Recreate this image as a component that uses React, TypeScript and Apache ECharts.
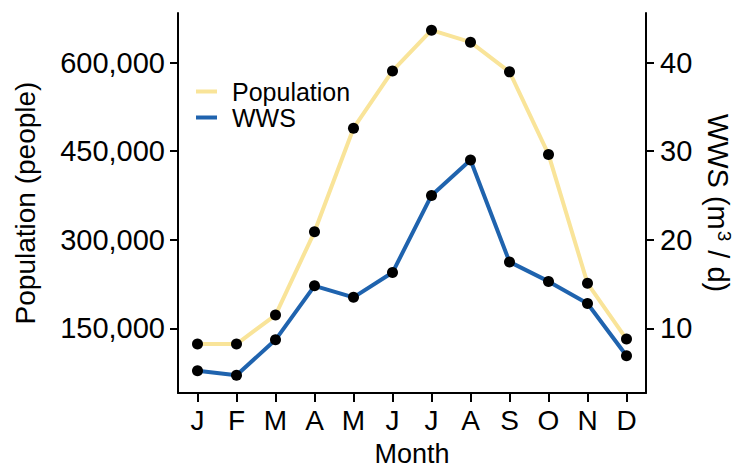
import React, { useEffect, useRef } from "react";
import * as echarts from "echarts";

const months = ["J", "F", "M", "A", "M", "J", "J", "A", "S", "O", "N", "D"];
const population = [123400, 123400, 172500, 313500, 489000, 586000, 655000, 634700, 584400, 444600, 226200, 131900];
const wws = [5.2, 4.7, 8.7, 14.8, 13.5, 16.3, 25.0, 29.0, 17.5, 15.3, 12.8, 6.9];
const popTicks = [150000, 300000, 450000, 600000];
const wwsTicks = [10, 20, 30, 40];

const FONT = "Liberation Sans, Arial, sans-serif";
const YELLOW = "#F9E499";
const BLUE = "#1F63AE";

export default function App() {
  const ref = useRef<HTMLDivElement>(null);
  useEffect(() => {
    if (!ref.current) return;
    const chart = echarts.init(ref.current, null, { renderer: "svg" });
    chart.setOption({
      animation: false,
      textStyle: { fontFamily: FONT, color: "#000" },
      grid: { left: 178, right: 88, top: 13, bottom: 77, containLabel: false, outerBoundsMode: "none" },
      legend: {
        orient: "vertical",
        left: 191,
        top: 74,
        itemWidth: 21,
        itemHeight: 4,
        itemGap: 1,
        icon: "rect",
        textStyle: { fontFamily: FONT, fontSize: 25, color: "#000", padding: [0, 0, 0, 10] },
        data: [
          { name: "Population", itemStyle: { color: YELLOW } },
          { name: "WWS", itemStyle: { color: BLUE } },
        ],
      },
      xAxis: {
        type: "category",
        data: months,
        boundaryGap: true,
        name: "Month",
        nameLocation: "middle",
        nameGap: 47,
        nameTextStyle: { fontFamily: FONT, fontSize: 27, lineHeight: 27, color: "#000" },
        axisLine: { show: true, lineStyle: { color: "#000", width: 2 } },
        axisTick: { show: true, alignWithLabel: true, length: 9, lineStyle: { color: "#000", width: 2 } },
        axisLabel: { fontFamily: FONT, fontSize: 28, color: "#000", margin: 13 },
        splitLine: { show: false },
      },
      yAxis: [
        {
          type: "value",
          position: "left",
          min: 40500,
          max: 684100,
          name: "Population (people)",
          nameLocation: "middle",
          nameGap: 139,
          nameTextStyle: { fontFamily: FONT, fontSize: 28, color: "#000" },
          axisLine: { show: true, lineStyle: { color: "#000", width: 2 } },
          axisTick: { show: true, length: 8, customValues: popTicks, lineStyle: { color: "#000", width: 2 } },
          axisLabel: {
            fontFamily: FONT,
            fontSize: 29,
            color: "#000",
            margin: 13,
            customValues: popTicks,
            formatter: (v: number) => v.toLocaleString("en-US"),
          },
          splitLine: { show: false },
        },
        {
          type: "value",
          position: "right",
          min: 2.7,
          max: 45.6,
          name: "WWS (m{sup|3} / d)",
          nameLocation: "middle",
          nameRotate: -90,
          nameGap: 52,
          nameTextStyle: {
            fontFamily: FONT,
            fontSize: 29,
            color: "#000",
            rich: {
              sup: { fontFamily: FONT, fontSize: 19, color: "#000", padding: [0, 1, 14, 1] },
            },
          },
          axisLine: { show: true, lineStyle: { color: "#000", width: 2 } },
          axisTick: { show: true, length: 8, customValues: wwsTicks, lineStyle: { color: "#000", width: 2 } },
          axisLabel: { fontFamily: FONT, fontSize: 29, color: "#000", margin: 14, customValues: wwsTicks },
          splitLine: { show: false },
        },
      ],
      series: [
        {
          name: "Population",
          type: "line",
          yAxisIndex: 0,
          data: population,
          color: YELLOW,
          lineStyle: { color: YELLOW, width: 4 },
          symbol: "circle",
          symbolSize: 11,
          itemStyle: { color: "#000" },
          z: 2,
        },
        {
          name: "WWS",
          type: "line",
          yAxisIndex: 1,
          data: wws,
          color: BLUE,
          lineStyle: { color: BLUE, width: 4 },
          symbol: "circle",
          symbolSize: 11,
          itemStyle: { color: "#000" },
          z: 3,
        },
      ],
    });
    return () => chart.dispose();
  }, []);
  return <div ref={ref} style={{ width: 734, height: 470, position: "absolute", left: 0, top: 0 }} />;
}
